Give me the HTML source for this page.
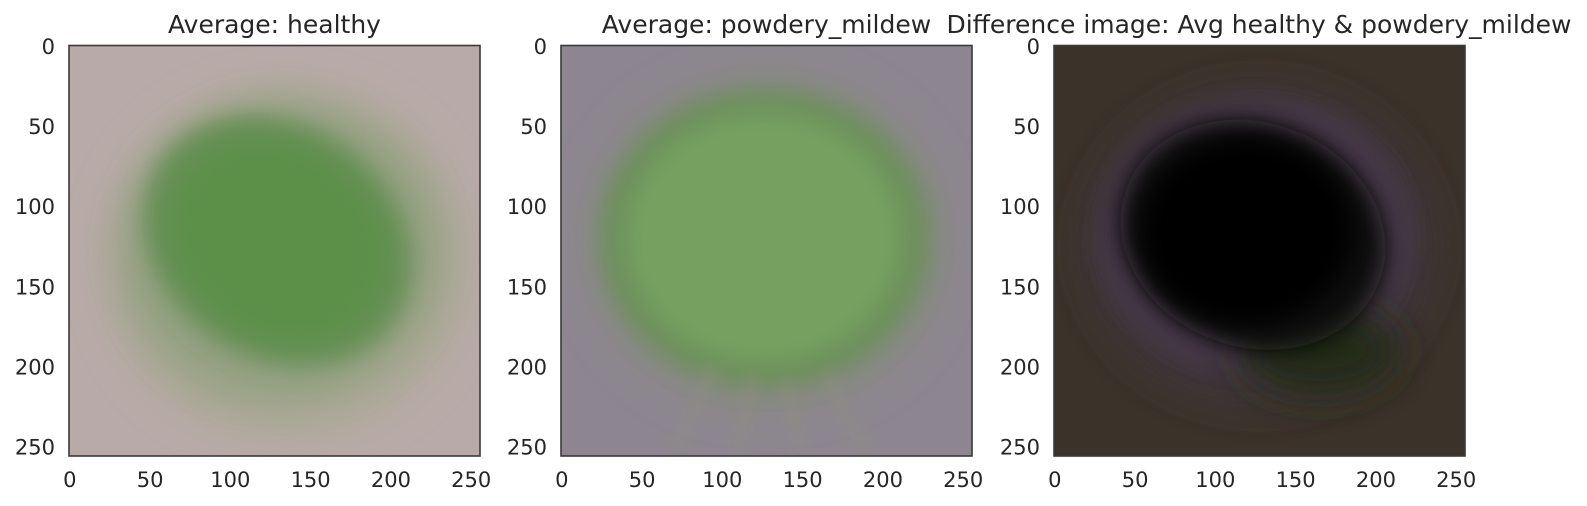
<!DOCTYPE html>
<html><head><meta charset="utf-8">
<style>
html,body{margin:0;padding:0;background:#fff;}
svg{display:block;font-family:"DejaVu Sans","Liberation Sans",sans-serif;}
text{fill:#262626;}
</style></head>
<body>
<svg id="fig" width="1587" height="506" viewBox="0 0 1587 506" xmlns="http://www.w3.org/2000/svg">
<defs>
  <filter id="b8" x="-50%" y="-50%" width="200%" height="200%"><feGaussianBlur stdDeviation="7"/></filter>
  <filter id="b14" x="-50%" y="-50%" width="200%" height="200%"><feGaussianBlur stdDeviation="12"/></filter>
  <filter id="b4" x="-50%" y="-50%" width="200%" height="200%"><feGaussianBlur stdDeviation="4"/></filter>
  <clipPath id="cp"><rect x="0" y="0" width="256" height="256"/></clipPath>
</defs>

<g>
  <text x="274.5" y="33" font-size="25" text-anchor="middle">Average: healthy</text>
  <svg x="69" y="45.5" width="411" height="410.5" viewBox="0 0 256 256" preserveAspectRatio="none">
    <g clip-path="url(#cp)">
      <rect width="256" height="256" fill="#b8aaa8"/>
      <ellipse cx="135" cy="135" rx="112" ry="108" fill="#aaa894" filter="url(#b14)"/>
      <ellipse cx="132" cy="128" rx="98" ry="92" fill="#8c9e7b" filter="url(#b14)" opacity="0.85"/>
      <ellipse cx="130" cy="122" rx="88" ry="72" transform="rotate(35 130 122)" fill="#668f55" filter="url(#b8)"/>
      <ellipse cx="130" cy="122" rx="70" ry="58" transform="rotate(35 130 122)" fill="#5b9049" filter="url(#b8)"/>
    </g>
  </svg>
  <rect x="69" y="45.5" width="411" height="410.5" fill="none" stroke="#3a3a3a" stroke-width="1.6"/>
</g>

<g>
  <text x="766.5" y="33" font-size="25" text-anchor="middle">Average: powdery_mildew</text>
  <svg x="561" y="45.5" width="411" height="410.5" viewBox="0 0 256 256" preserveAspectRatio="none">
    <g clip-path="url(#cp)">
      <rect width="256" height="256" fill="#8d8690"/>
      <ellipse cx="128" cy="122" rx="112" ry="104" fill="#858a7e" filter="url(#b14)"/>
      <ellipse cx="127" cy="120" rx="102" ry="92" fill="#6c8f5a" filter="url(#b8)"/>
      <ellipse cx="126" cy="120" rx="86" ry="78" fill="#74a060" filter="url(#b8)"/>
      <path d="M70 255 L95 200 M110 255 L120 205 M190 255 L165 205 M150 255 L140 210" stroke="#8f8f80" stroke-width="6" filter="url(#b4)" opacity="0.6"/>
    </g>
  </svg>
  <rect x="561" y="45.5" width="411" height="410.5" fill="none" stroke="#3a3a3a" stroke-width="1.6"/>
</g>

<g>
  <text x="1259" y="33" font-size="25" text-anchor="middle">Difference image: Avg healthy &amp; powdery_mildew</text>
  <svg x="1054" y="45.5" width="411" height="410.5" viewBox="0 0 256 256" preserveAspectRatio="none">
    <g clip-path="url(#cp)">
      <rect width="256" height="256" fill="#3b3229"/>
      <ellipse cx="128" cy="125" rx="108" ry="98" fill="#40363e" filter="url(#b14)"/>
      <ellipse cx="125" cy="118" rx="96" ry="84" fill="#46394a" filter="url(#b8)"/>
      <ellipse cx="165" cy="190" rx="50" ry="28" fill="#232a18" filter="url(#b14)"/>
      <ellipse cx="124" cy="118" rx="84" ry="70" transform="rotate(20 124 118)" fill="#0a0908" filter="url(#b8)"/>
      <ellipse cx="120" cy="116" rx="66" ry="58" fill="#020202" filter="url(#b8)"/>
    </g>
  </svg>
  <rect x="1054" y="45.5" width="411" height="410.5" fill="none" stroke="#3a3a3a" stroke-width="1.6"/>
</g>

<g id="ticks"></g>
</svg>
<script>
const tickValues = [0, 50, 100, 150, 200, 250];
const tickLabels = ["0", "50", "100", "150", "200", "250"];
const imageSize = [256];
const panelLefts = [69, 561, 1054];
const panelTop = 45.5, panelW = 411, panelH = 410.5;
const NS = "http://www.w3.org/2000/svg";
const g = document.getElementById("ticks");
function xScale(left, v){ return left + (v + 0.5) / imageSize[0] * panelW; }
function yScale(v){ return panelTop + (v + 0.5) / imageSize[0] * panelH; }
panelLefts.forEach(function(left, p){
  tickValues.forEach(function(v, i){
    const tx = document.createElementNS(NS, "text");
    tx.setAttribute("x", xScale(left, v));
    tx.setAttribute("y", 487);
    tx.setAttribute("font-size", "21");
    tx.setAttribute("text-anchor", "middle");
    tx.textContent = tickLabels[i];
    
    
    g.appendChild(tx);
    const ty = document.createElementNS(NS, "text");
    ty.setAttribute("x", left - 14);
    ty.setAttribute("y", yScale(v) + 7.5);
    ty.setAttribute("font-size", "21");
    ty.setAttribute("text-anchor", "end");
    ty.textContent = tickLabels[i];
    
    
    g.appendChild(ty);
  });
});
</script>
</body></html>
